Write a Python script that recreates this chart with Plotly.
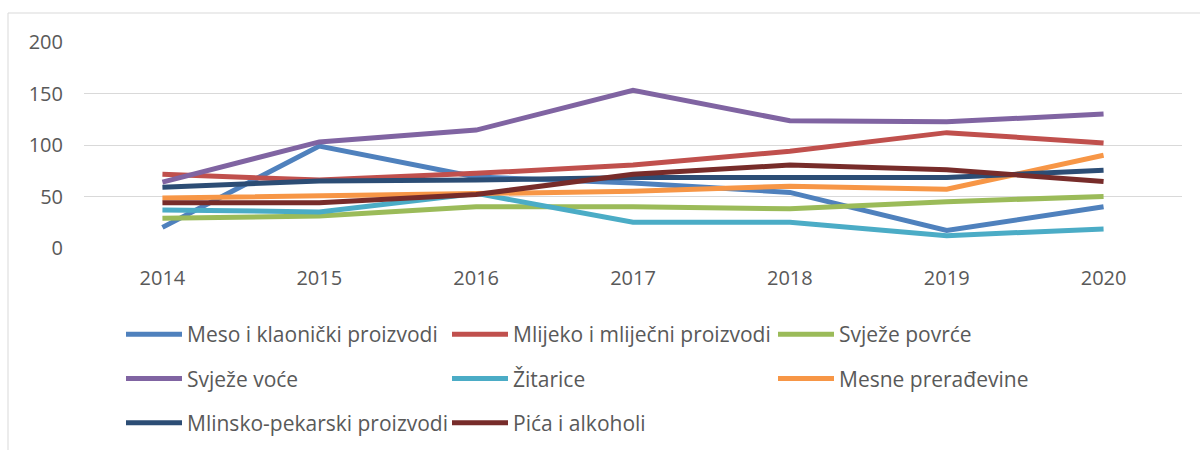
import plotly.graph_objects as go

years = ["2014", "2015", "2016", "2017", "2018", "2019", "2020"]

meso = [20, 99, 69, 63, 54, 17, 40]
mlijeko = [71.5, 66, 72.5, 80.5, 94, 112, 102]
povrce = [29, 31, 40, 40, 38, 45, 50]
voce = [64, 103, 114.5, 153, 123.5, 122.5, 130]
zitarice = [37, 35, 53, 25, 25, 12, 18.5]
mesne = [48.5, 50.5, 53, 55, 60, 57, 90]
mlinsko = [59, 65, 66, 68.5, 68.5, 68.5, 75.5]
pica = [44, 44, 52, 71.5, 80.5, 76, 64.5]

series = [
    ("Meso i klaonički proizvodi", meso, "#4F81BD", "legend"),
    ("Mlijeko i mliječni proizvodi", mlijeko, "#C0504D", "legend2"),
    ("Svježe povrće", povrce, "#9BBB59", "legend3"),
    ("Svježe voće", voce, "#8064A2", "legend"),
    ("Žitarice", zitarice, "#4BACC6", "legend2"),
    ("Mesne prerađevine", mesne, "#F79646", "legend3"),
    ("Mlinsko-pekarski proizvodi", mlinsko, "#2C4D75", "legend"),
    ("Pića i alkoholi", pica, "#772C2A", "legend2"),
]

FONT = "Open Sans"
TXT = "#595959"

L, R, T, B = 84, 18, 42, 202
PW = 1200 - L - R
PH = 450 - T - B


def px_x(px):
    return (px - L) / PW


def px_y(py):
    return (450 - B - py) / PH


fig = go.Figure()
for i, (name, vals, color, lg) in enumerate(series):
    fig.add_trace(go.Scatter(
        x=years, y=vals, name=name, mode="lines",
        line=dict(color=color, width=5),
        legend=lg, legendgroup=f"g{i}",
    ))


def leg(x):
    return dict(
        x=px_x(x), y=px_y(314), xref="paper", yref="paper",
        xanchor="left", yanchor="top", orientation="v",
        font=dict(family=FONT, size=21, color=TXT),
        tracegroupgap=14, bgcolor="rgba(0,0,0,0)",
        itemwidth=56,
    )


fig.update_layout(
    width=1200, height=450,
    margin=dict(l=L, r=R, t=T, b=B, autoexpand=False),
    paper_bgcolor="white", plot_bgcolor="white",
    font=dict(family=FONT, size=21, color=TXT),
    showlegend=True,
    legend=leg(121),
    legend2=leg(447),
    legend3=leg(773),
    xaxis=dict(
        type="category", range=[-0.5, 6.5], showgrid=False, zeroline=False,
        showline=False, ticks="", tickfont=dict(family=FONT, size=20, color=TXT),
        ticklabelstandoff=16, tickangle=0,
    ),
    yaxis=dict(
        range=[0, 200], tickvals=[0, 50, 100, 150, 200], showgrid=True,
        gridcolor="#D9D9D9", gridwidth=1, zeroline=False, showline=False,
        ticks="", tickfont=dict(family=FONT, size=20, color=TXT),
        ticklabelstandoff=20,
    ),
    shapes=[dict(
        type="rect", xref="paper", yref="paper",
        x0=px_x(8), x1=px_x(1215),
        y0=px_y(460), y1=px_y(13),
        line=dict(color="#D9D9D9", width=1), fillcolor="rgba(0,0,0,0)",
        layer="below",
    )],
)

fig.write_html(
    "out.html",
    config={"displayModeBar": False},
    post_script="document.body.style.margin='0';document.body.style.overflow='hidden';",
)
